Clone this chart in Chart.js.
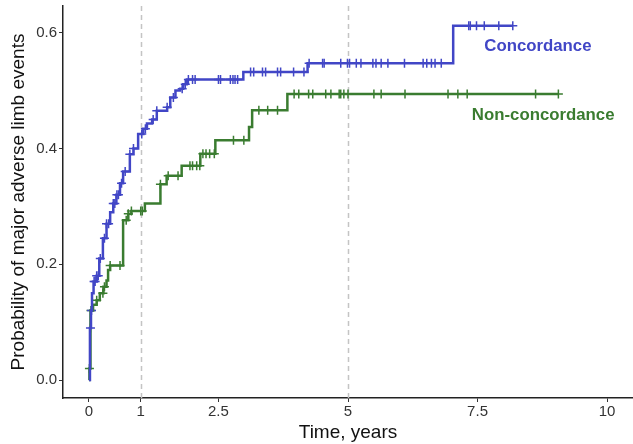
<!DOCTYPE html>
<html>
<head>
<meta charset="utf-8">
<script src="https://cdn.jsdelivr.net/npm/chart.js@4.4.6/dist/chart.umd.min.js"></script>
<style>
  html, body { margin: 0; padding: 0; background: #fff; }
  #wrap { width: 633px; height: 444px; }
</style>
</head>
<body>
<div id="wrap"><canvas id="km" width="633" height="444"></canvas></div>
<script>
// Kaplan-Meier style step data
const concTimes = [0, 0.02, 0.04, 0.06, 0.09, 0.15, 0.2, 0.27, 0.34, 0.41, 0.47, 0.53, 0.6, 0.66, 0.79, 0.86, 0.95, 1.05, 1.12, 1.22, 1.31, 1.51, 1.57, 1.67, 1.76, 1.82, 1.89, 2.98, 4.22, 7.03, 8.18];
const concProb  = [0, 0.09, 0.12, 0.15, 0.17, 0.18, 0.21, 0.245, 0.27, 0.29, 0.305, 0.32, 0.34, 0.36, 0.39, 0.40, 0.425, 0.434, 0.443, 0.45, 0.465, 0.471, 0.488, 0.50, 0.503, 0.511, 0.519, 0.532, 0.547, 0.612, 0.612];
const concCensor = [0.03, 0.05, 0.1, 0.12, 0.15, 0.18, 0.22, 0.3, 0.34, 0.38, 0.47, 0.5, 0.54, 0.57, 0.63, 0.7, 0.79, 0.86, 1.02, 1.09, 1.24, 1.31, 1.51, 1.63, 1.8, 1.86, 1.92, 2.0, 2.05, 2.5, 2.54, 2.73, 2.78, 2.82, 2.87, 3.12, 3.18, 3.35, 3.41, 3.64, 3.70, 3.95, 4.15, 4.25, 4.51, 4.54, 4.86, 4.99, 5.03, 5.16, 5.25, 5.48, 5.54, 5.64, 5.77, 6.09, 6.45, 6.52, 6.61, 6.68, 6.80, 7.33, 7.36, 7.48, 7.63, 7.91, 8.18];

const nonTimes = [0, 0.01, 0.03, 0.08, 0.15, 0.21, 0.28, 0.34, 0.37, 0.41, 0.66, 0.76, 0.82, 1.08, 1.38, 1.5, 1.79, 2.15, 2.44, 3.09, 3.15, 3.83, 9.06];
const nonProb  = [0, 0.02, 0.12, 0.13, 0.138, 0.15, 0.161, 0.172, 0.19, 0.198, 0.276, 0.287, 0.292, 0.305, 0.338, 0.353, 0.37, 0.391, 0.414, 0.437, 0.466, 0.494, 0.494];
const nonCensor = [0.01, 0.04, 0.15, 0.27, 0.3, 0.41, 0.6, 0.72, 0.76, 0.82, 1.0, 1.03, 1.38, 1.53, 1.72, 1.95, 2.0, 2.08, 2.14, 2.2, 2.26, 2.33, 2.42, 2.79, 2.99, 3.28, 3.45, 3.64, 3.96, 4.05, 4.24, 4.32, 4.57, 4.67, 4.83, 4.86, 4.92, 5.0, 5.5, 5.64, 6.1, 6.93, 7.12, 7.3, 8.62, 9.06];

const xTicks = [0, 1, 2.5, 5, 7.5, 10];
const yTicks = [0, 0.2, 0.4, 0.6];
const refLines = [1, 5];

const BLUE = '#4146c6';
const GREEN = '#3a7c30';
const FONT = '"Liberation Sans", Arial, Helvetica, sans-serif';

function stepAt(times, probs, t) {
  let p = probs[0];
  for (let i = 0; i < times.length; i++) {
    if (times[i] <= t) p = probs[i];
  }
  return p;
}

const toXY = (ts, ps) => ts.map((t, i) => ({ x: t, y: ps[i] }));
const censorXY = (cs, ts, ps) => cs.map(t => ({ x: t, y: stepAt(ts, ps, t) }));

const refLinePlugin = {
  id: 'refLines',
  beforeDatasetsDraw(chart) {
    const { ctx, chartArea, scales } = chart;
    ctx.save();
    ctx.strokeStyle = '#c4c4c4';
    ctx.lineWidth = 1.5;
    ctx.setLineDash([5, 4]);
    refLines.forEach(v => {
      const x = Math.round(scales.x.getPixelForValue(v)) + 0.5;
      ctx.beginPath();
      ctx.moveTo(x, chartArea.top);
      ctx.lineTo(x, chartArea.bottom);
      ctx.stroke();
    });
    ctx.restore();
  }
};

const labelPlugin = {
  id: 'groupLabels',
  afterDatasetsDraw(chart) {
    const { ctx, scales } = chart;
    ctx.save();
    ctx.font = 'bold 16.8px ' + FONT;
    ctx.textBaseline = 'middle';
    ctx.textAlign = 'left';
    ctx.fillStyle = BLUE;
    ctx.fillText('Concordance', scales.x.getPixelForValue(7.63), scales.y.getPixelForValue(0.576));
    ctx.fillStyle = GREEN;
    ctx.fillText('Non-concordance', scales.x.getPixelForValue(7.39), scales.y.getPixelForValue(0.457));
    ctx.restore();
  }
};

new Chart(document.getElementById('km'), {
  type: 'line',
  data: {
    datasets: [
      {
        label: 'Concordance',
        data: toXY(concTimes, concProb),
        borderColor: BLUE,
        borderWidth: 2.5,
        stepped: true,
        pointRadius: 0,
        fill: false
      },
      {
        label: 'Non-concordance',
        data: toXY(nonTimes, nonProb),
        borderColor: GREEN,
        borderWidth: 2.5,
        stepped: true,
        pointRadius: 0,
        fill: false
      },
      {
        label: 'conc-censor',
        data: censorXY(concCensor, concTimes, concProb),
        showLine: false,
        pointStyle: 'cross',
        pointRadius: 4.5,
        pointBorderWidth: 1.5,
        pointBorderColor: BLUE,
        borderColor: BLUE
      },
      {
        label: 'non-censor',
        data: censorXY(nonCensor, nonTimes, nonProb),
        showLine: false,
        pointStyle: 'cross',
        pointRadius: 4.5,
        pointBorderWidth: 1.5,
        pointBorderColor: GREEN,
        borderColor: GREEN
      }
    ]
  },
  options: {
    responsive: false,
    animation: false,
    layout: { autoPadding: false, padding: { top: 6, right: 0, left: 0, bottom: 0 } },
    plugins: {
      legend: { display: false },
      tooltip: { enabled: false }
    },
    scales: {
      x: {
        type: 'linear',
        min: -0.5,
        max: 10.5,
        afterBuildTicks: s => { s.ticks = xTicks.map(v => ({ value: v })); },
        afterFit: s => { s.height = 46; s.paddingLeft = 0; s.paddingRight = 0; },
        grid: { drawOnChartArea: false, drawTicks: true, tickLength: 4, color: '#333', lineWidth: 1 },
        border: { display: true, color: '#222', width: 1.5 },
        ticks: {
          color: '#333',
          font: { family: FONT, size: 15 },
          padding: 1,
          maxRotation: 0,
          callback: v => String(v)
        },
        title: {
          display: true,
          text: 'Time, years',
          color: '#111',
          font: { family: FONT, size: 19 },
          padding: { top: 0, bottom: 0 }
        }
      },
      y: {
        min: -0.031,
        max: 0.646,
        afterBuildTicks: s => { s.ticks = yTicks.map(v => ({ value: v })); },
        afterFit: s => { s.width = 63; s.paddingTop = 0; s.paddingBottom = 0; },
        grid: { drawOnChartArea: false, drawTicks: true, tickLength: 4, color: '#333', lineWidth: 1 },
        border: { display: true, color: '#222', width: 1.5 },
        ticks: {
          color: '#333',
          font: { family: FONT, size: 15 },
          padding: 2,
          callback: v => v.toFixed(1)
        },
        title: {
          display: true,
          text: 'Probability of major adverse limb events',
          color: '#111',
          font: { family: FONT, size: 19 },
          padding: { top: 7, bottom: 0 }
        }
      }
    }
  },
  plugins: [refLinePlugin, labelPlugin]
});
</script>
</body>
</html>
